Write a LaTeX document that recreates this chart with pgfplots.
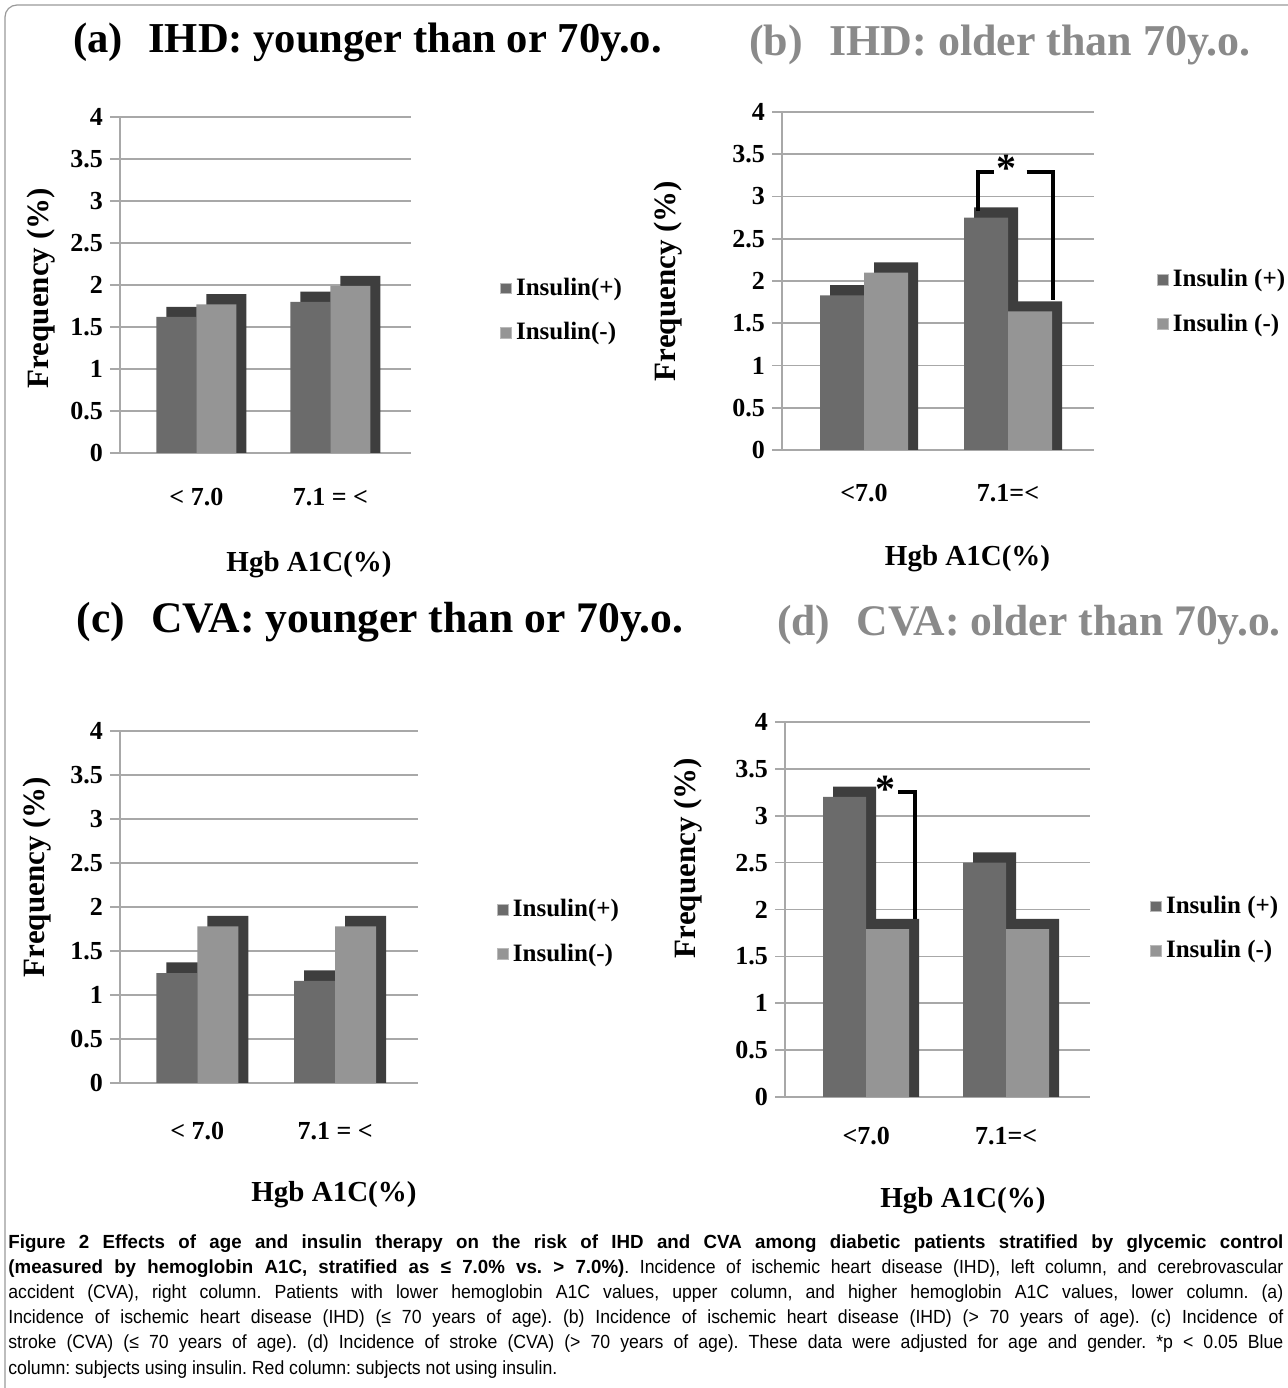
\documentclass[border=0pt]{standalone}
\usepackage{fontspec}
\setmainfont{Liberation Serif}
\newfontfamily\capfont[FakeStretch=0.93]{Liberation Sans}
\newfontfamily\capfontb[FakeStretch=0.985]{Liberation Sans}
\usepackage{pgfplots}
\pgfplotsset{compat=1.18}
\definecolor{plusc}{HTML}{6B6B6B}
\definecolor{minusc}{HTML}{959595}
\definecolor{sidec}{HTML}{3E3E3E}
\definecolor{gridc}{HTML}{A8A8A8}
\definecolor{titlegray}{HTML}{8A8A8A}
\pgfplotsset{
 panel/.style={
   scale only axis, ymin=0, ymax=4, ytick={0,0.5,1,1.5,2,2.5,3,3.5,4},
   axis lines*=left, axis line style={gridc, line width=0.8pt},
   ymajorgrids, grid style={gridc, line width=0.8pt},
   tick align=outside, ytick style={gridc, line width=0.8pt}, major tick length=5pt,
   xtick={0,1}, xtick style={draw=none},
   /pgf/number format/assume math mode=true,
   yticklabel style={font=\fontsize{13}{13}\selectfont\bfseries},
   xticklabel style={font=\fontsize{13}{13}\selectfont\bfseries, anchor=center},
   ylabel={Frequency (\%)}, xlabel={Hgb A1C(\%)},
   ylabel style={font=\fontsize{15.5}{16}\selectfont\bfseries, anchor=center},
   xlabel style={font=\fontsize{14.5}{15}\selectfont\bfseries, anchor=center},
   legend style={draw=none, fill=none, anchor=north west, font=\fontsize{12.5}{13}\selectfont\bfseries, row sep=8pt, inner sep=0pt},
   legend cell align=left,
   legend image code/.code={\draw[##1, draw=gray!55, line width=0.4pt] (0pt,-2.7pt) rectangle (5.4pt,2.7pt);},
 }
}
\begin{document}
\begin{tikzpicture}
\useasboundingbox (0,0) rectangle (643.5pt,694pt);
\draw[gray!80, line width=0.6pt, rounded corners=6pt] (2.5pt,-5pt) -- (2.5pt,691.5pt) -- (650pt,691.5pt);

% titles
\node[font=\fontsize{21.3}{22}\selectfont\bfseries] at (183.75pt,673pt) {(a)\hspace{0.6em}IHD: younger than or 70y.o.};
\node[font=\fontsize{22}{22}\selectfont\bfseries, text=titlegray] at (500pt,671.5pt) {(b)\hspace{0.6em}IHD: older than 70y.o.};
\node[font=\fontsize{21.8}{22}\selectfont\bfseries] at (190pt,383pt) {(c)\hspace{0.6em}CVA: younger than or 70y.o.};
\node[font=\fontsize{21.8}{22}\selectfont\bfseries, text=titlegray] at (514.5pt,381.5pt) {(d)\hspace{0.6em}CVA: older than 70y.o.};

% (a)
\begin{axis}[panel, at={(60pt,467.5pt)}, anchor=south west, width=145.4pt, height=168pt,
  xmin=-0.57, xmax=1.6, xticklabels={{< 7.0},{7.1 = <}}, xticklabel style={yshift=-17pt},
  ylabel style={at={(axis description cs:0,0.49)}, yshift=39.5pt},
  xlabel style={at={(axis description cs:0.65,0)}, yshift=-56pt},
  legend style={at={(axis description cs:1.307,0.533)}}]
\addplot[ybar, bar width=20pt, bar shift=-5pt, fill=sidec, draw=none, forget plot] coordinates {(0,1.74) (1,1.92)};
\addplot[ybar, bar width=20pt, bar shift=-10pt, fill=plusc, draw=none] coordinates {(0,1.62) (1,1.80)};
\addplot[ybar, bar width=20pt, bar shift=15pt, fill=sidec, draw=none, forget plot] coordinates {(0,1.89) (1,2.11)};
\addplot[ybar, bar width=20pt, bar shift=10pt, fill=minusc, draw=none] coordinates {(0,1.77) (1,1.99)};
\legend{Insulin(+),Insulin(-)}
\end{axis}

% (b)
\begin{axis}[panel, at={(391pt,469pt)}, anchor=south west, width=156.2pt, height=169pt,
  xmin=-0.57, xmax=1.6, xticklabels={{<7.0},{7.1=<}}, xticklabel style={yshift=-16.5pt},
  ylabel style={at={(axis description cs:0,0.5)}, yshift=57pt},
  xlabel style={at={(axis description cs:0.594,0)}, yshift=-54.5pt},
  legend style={at={(axis description cs:1.2,0.547)}}]
\addplot[ybar, bar width=22pt, bar shift=-6pt, fill=sidec, draw=none, forget plot] coordinates {(0,1.95) (1,2.87)};
\addplot[ybar, bar width=22pt, bar shift=-11pt, fill=plusc, draw=none] coordinates {(0,1.83) (1,2.75)};
\addplot[ybar, bar width=22pt, bar shift=16pt, fill=sidec, draw=none, forget plot] coordinates {(0,2.22) (1,1.76)};
\addplot[ybar, bar width=22pt, bar shift=11pt, fill=minusc, draw=none] coordinates {(0,2.10) (1,1.64)};
\legend{Insulin (+),Insulin (-)}
\draw[line width=2pt] (axis cs:0.79,2.83) -- (axis cs:0.79,3.29) -- (axis cs:0.90,3.29);
\draw[line width=2pt] (axis cs:1.13,3.29) -- (axis cs:1.31,3.29) -- (axis cs:1.31,1.78);
\node[font=\fontsize{20}{20}\selectfont\bfseries] at (axis cs:0.99,3.33) {*};
\end{axis}

% (c)
\begin{axis}[panel, at={(60pt,152.5pt)}, anchor=south west, width=149pt, height=176pt,
  xmin=-0.56, xmax=1.6, xticklabels={{< 7.0},{7.1 = <}}, xticklabel style={yshift=-19pt},
  ylabel style={at={(axis description cs:0,0.585)}, yshift=41.5pt},
  xlabel style={at={(axis description cs:0.718,0)}, yshift=-56pt},
  legend style={at={(axis description cs:1.265,0.534)}}]
\addplot[ybar, bar width=20.5pt, bar shift=-5.25pt, fill=sidec, draw=none, forget plot] coordinates {(0,1.37) (1,1.28)};
\addplot[ybar, bar width=20.5pt, bar shift=-10.25pt, fill=plusc, draw=none] coordinates {(0,1.25) (1,1.16)};
\addplot[ybar, bar width=20.5pt, bar shift=15.25pt, fill=sidec, draw=none, forget plot] coordinates {(0,1.90) (1,1.90)};
\addplot[ybar, bar width=20.5pt, bar shift=10.25pt, fill=minusc, draw=none] coordinates {(0,1.78) (1,1.78)};
\legend{Insulin(+),Insulin(-)}
\end{axis}

% (d)
\begin{axis}[panel, at={(392.5pt,145.5pt)}, anchor=south west, width=152.6pt, height=187.5pt,
  xmin=-0.58, xmax=1.6, xticklabels={{<7.0},{7.1=<}}, xticklabel style={yshift=-14.5pt},
  ylabel style={at={(axis description cs:0,0.637)}, yshift=48.5pt},
  xlabel style={at={(axis description cs:0.583,0)}, yshift=-52pt},
  legend style={at={(axis description cs:1.196,0.547)}}]
\addplot[ybar, bar width=21.5pt, bar shift=-5.75pt, fill=sidec, draw=none, forget plot] coordinates {(0,3.31) (1,2.61)};
\addplot[ybar, bar width=21.5pt, bar shift=-10.75pt, fill=plusc, draw=none] coordinates {(0,3.20) (1,2.50)};
\addplot[ybar, bar width=21.5pt, bar shift=15.75pt, fill=sidec, draw=none, forget plot] coordinates {(0,1.90) (1,1.90)};
\addplot[ybar, bar width=21.5pt, bar shift=10.75pt, fill=minusc, draw=none] coordinates {(0,1.79) (1,1.79)};
\legend{Insulin (+),Insulin (-)}
\draw[line width=2pt] (axis cs:0.23,3.25) -- (axis cs:0.35,3.25) -- (axis cs:0.35,1.90);
\node[font=\fontsize{20}{20}\selectfont\bfseries] at (axis cs:0.14,3.28) {*};
\end{axis}

% caption
\node[anchor=north west, inner sep=0pt, text width=637.5pt, align=justify,
      font=\capfont\fontsize{9.5}{12.6}\selectfont] at (4pt,77pt) {\hyphenpenalty=10000\frenchspacing
{\capfontb\bfseries Figure 2 Effects of age and insulin therapy on the risk of IHD and CVA among diabetic patients stratified by glycemic control\linebreak
(measured by hemoglobin A1C, stratified as ≤ 7.0\% vs. > 7.0\%)}. Incidence of ischemic heart disease (IHD), left column, and cerebrovascular\linebreak
accident (CVA), right column. Patients with lower hemoglobin A1C values, upper column, and higher hemoglobin A1C values, lower column. (a)\linebreak
Incidence of ischemic heart disease (IHD) (≤ 70 years of age). (b) Incidence of ischemic heart disease (IHD) (> 70 years of age). (c) Incidence of\linebreak
stroke (CVA) (≤ 70 years of age). (d) Incidence of stroke (CVA) (> 70 years of age). These data were adjusted for age and gender. *p < 0.05 Blue\linebreak
column: subjects using insulin. Red column: subjects not using insulin.};
\end{tikzpicture}
\end{document}
